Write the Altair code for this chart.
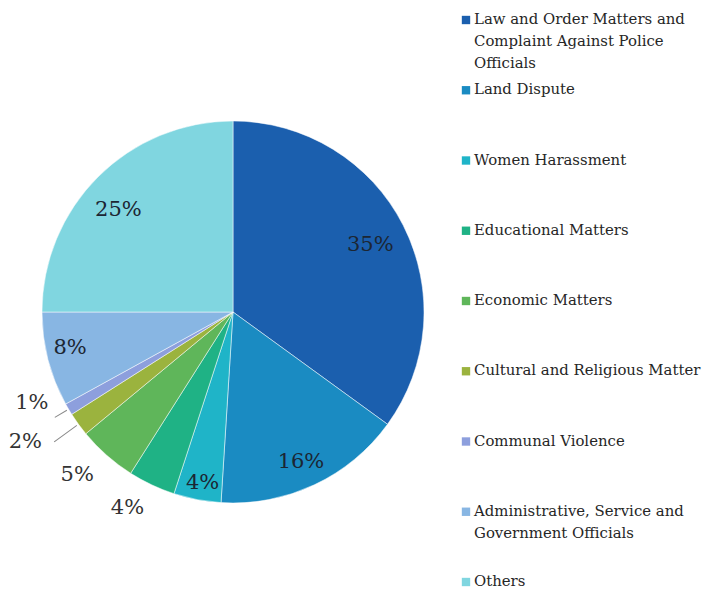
import math
import altair as alt
import pandas as pd

categories = [
    "Law and Order Matters and Complaint Against Police Officials",
    "Land Dispute",
    "Women Harassment",
    "Educational Matters",
    "Economic Matters",
    "Cultural and  Religious Matter",
    "Communal Violence",
    "Administrative, Service and Government Officials",
    "Others",
]
legend_labels = [
    "Law and Order Matters and\nComplaint Against Police\nOfficials",
    "Land Dispute",
    "Women Harassment",
    "Educational Matters",
    "Economic Matters",
    "Cultural and  Religious Matter",
    "Communal Violence",
    "Administrative, Service and\nGovernment Officials",
    "Others",
]
values = [35, 16, 4, 4, 5, 2, 1, 8, 25]
colors = ["#1b5fae", "#1a8bc2", "#1fb4c8", "#1fb285", "#5fb65a",
          "#9bb33e", "#8d9fdd", "#88b6e3", "#80d6e0"]

df = pd.DataFrame({
    "category": categories,
    "legend": legend_labels,
    "value": values,
    "idx": list(range(len(categories))),
})

color = alt.Color("category:N", scale=alt.Scale(domain=categories, range=colors), legend=None)
FONT = "DejaVu Serif"
cx, cy = 225, 304
R = 191
TSCALE = alt.Scale(domain=[0, 100], range=[0, 2 * math.pi])

pie = alt.Chart(df).mark_arc(radius=R, stroke="white", strokeWidth=0.5).encode(
    theta=alt.Theta("value:Q", stack=True, scale=TSCALE),
    order=alt.Order("idx:Q"),
    x=alt.value(cx), y=alt.value(cy),
    color=color,
)

# cumulative position of each slice (centre angle)
cum = alt.Chart(df).transform_window(
    cum="sum(value)", sort=[alt.SortField("idx")], frame=[None, 0]
).transform_calculate(
    mid="datum.cum - datum.value / 2",
    label="datum.value + '%'",
)

# label placement: (radius, dx, dy, colour)
placement = {
    categories[0]: (162, -7, 7, "#1c2633"),
    categories[1]: (162, -1, 3, "#1c2633"),
    categories[2]: (162, 0, 12, "#1c2633"),
    categories[3]: (222, -11, -5, "#333333"),
    categories[4]: (222, -9, -4, "#333333"),
    categories[5]: (222, -28, 0, "#333333"),
    categories[6]: (222, -10, -22, "#333333"),
    categories[7]: (162, -6, -4, "#1c2633"),
    categories[8]: (162, 0, 13, "#1c2633"),
}

label_layers = []
for cat, (rad, dx, dy, col) in placement.items():
    label_layers.append(
        cum.transform_filter(alt.datum.category == cat).mark_text(
            radius=rad, dx=dx, dy=dy, font=FONT, fontSize=21, color=col
        ).encode(
            theta=alt.Theta("mid:Q", stack=False, scale=TSCALE),
            x=alt.value(cx), y=alt.value(cy),
            text="label:N",
        )
    )

# leader lines for the two smallest slices
leaders = cum.transform_filter(
    alt.FieldOneOfPredicate(field="category", oneOf=[categories[5], categories[6]])
).transform_calculate(
    r2="datum.idx == 5 ? 221 : 207",
    t0="datum.mid - 0.04",
    t1="datum.mid + 0.04",
).mark_arc(color="#8a8a8a", radius2=R + 2).encode(
    theta=alt.Theta("t0:Q", stack=False, scale=TSCALE),
    theta2="t1:Q",
    radius=alt.Radius("r2:Q", scale=None),
    x=alt.value(cx), y=alt.value(cy),
)

yscale = alt.Y("category:N", scale=alt.Scale(type="point", domain=categories,
                                             range=[12, 574], padding=0), axis=None)

leg_sym = alt.Chart(df).mark_square(size=70, opacity=1).encode(
    x=alt.value(458), y=yscale, color=color
)
leg_txt = alt.Chart(df).mark_text(
    align="left", baseline="middle", lineBreak="\n", font=FONT, fontSize=14.9,
    lineHeight=22, color="#262626"
).encode(x=alt.value(466), y=yscale, text="legend:N")

chart = alt.layer(pie, leaders, *label_layers, leg_sym, leg_txt).properties(
    width=698, height=584, padding=0,
    autosize=alt.AutoSizeParams(type="none"),
).configure_view(stroke=None)

chart.save("out.html", embed_options={"renderer": "svg", "actions": False})
